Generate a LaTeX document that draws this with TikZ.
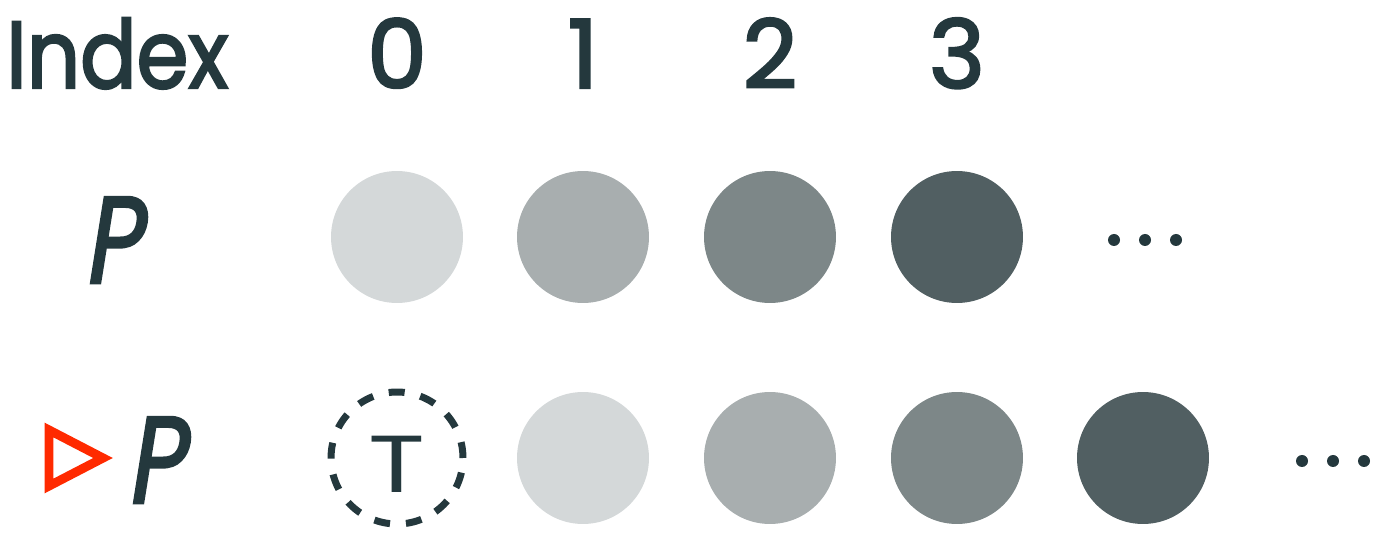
\documentclass[tikz,border=0pt]{standalone}
\usepackage{fontspec}
\setmainfont{Poppins}
\newfontfamily\headfont[FakeBold=2.6]{Poppins}
\newfontfamily\slantfont[FakeSlant=0.2,FakeBold=2.4]{Poppins}
\definecolor{ink}{HTML}{24383D}
\definecolor{shadeA}{HTML}{D4D8D9}
\definecolor{shadeB}{HTML}{A8AEAF}
\definecolor{shadeC}{HTML}{7D8788}
\definecolor{shadeD}{HTML}{515F62}
\definecolor{shiftRed}{HTML}{FF2A00}
\begin{document}
\begin{tikzpicture}[x=0.02cm,y=-0.02cm,
    seqBall/.style={circle,inner sep=0pt,minimum size=2.64cm},
    seqDot/.style={circle,fill=ink,inner sep=0pt,minimum size=0.24cm},
    headText/.style={text=ink,anchor=base,font=\fontsize{54}{60}\headfont},
    seqName/.style={text=ink,anchor=base,inner sep=2pt,font=\fontsize{70}{80}\slantfont},
]
\useasboundingbox (0,0) rectangle (1384,533);
% Header
\node[headText,anchor=base west] (hdr) at (0,88) {\scalebox{0.88}[1]{Index}};
\node[headText] (i0) at (397,88) {0};
\node[headText] (i1) at (583,88) {1};
\node[headText] (i2) at (770,88) {2};
\node[headText] (i3) at (957,88) {3};
% Sequence P
\node[seqName] (pName) at (112,283) {\scalebox{0.8}[1]{P}};
\node[seqBall,fill=shadeA] (p0) at (397,237) {};
\node[seqBall,fill=shadeB] (p1) at (583,237) {};
\node[seqBall,fill=shadeC] (p2) at (770,237) {};
\node[seqBall,fill=shadeD] (p3) at (957,237) {};
\foreach \i/\x in {0/1114,1/1145,2/1176}
  \node[seqDot] (pd\i) at (\x,240) {};
% Shifted sequence
\draw[shiftRed,line width=0.18cm,line join=miter]
  (49,430) -- (103,458) -- (49,486) -- cycle;
\node[seqName] (qName) at (155,503) {\scalebox{0.8}[1]{P}};
\node[seqBall,draw=ink,line width=0.14cm,dash pattern=on 0.32cm off 0.32cm] (q0) at (397,458) {};
\node[text=ink,anchor=base,font=\fontsize{46}{50}\selectfont] (qT) at (397,493) {\scalebox{1.3}[1]{T}};
\node[seqBall,fill=shadeA] (q1) at (583,458) {};
\node[seqBall,fill=shadeB] (q2) at (770,458) {};
\node[seqBall,fill=shadeC] (q3) at (957,458) {};
\node[seqBall,fill=shadeD] (q4) at (1143,458) {};
\foreach \i/\x in {0/1302,1/1333,2/1364}
  \node[seqDot] (qd\i) at (\x,461) {};
\end{tikzpicture}
\end{document}
